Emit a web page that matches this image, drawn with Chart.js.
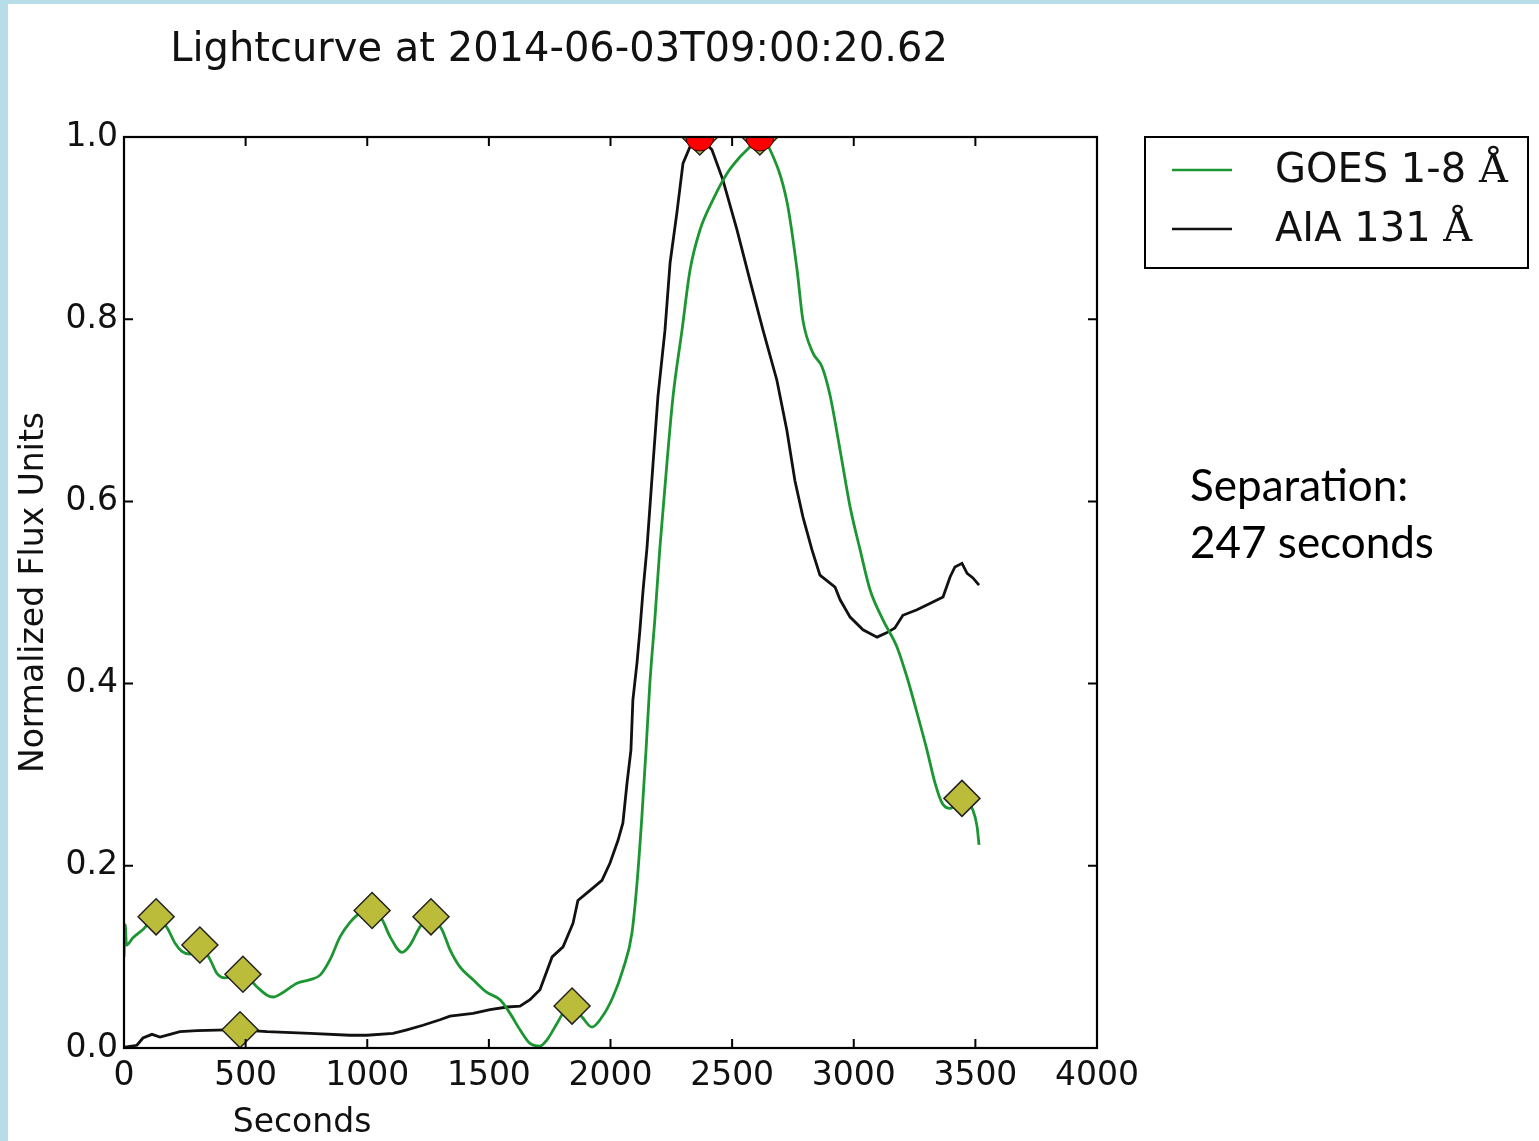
<!DOCTYPE html>
<html>
<head>
<meta charset="utf-8">
<title>Lightcurve</title>
<script src="https://cdn.jsdelivr.net/npm/chart.js@4"></script>
<style>
  html, body { margin: 0; padding: 0; background: #fff; }
  canvas { display: block; }
</style>
</head>
<body>
<canvas id="lightcurve" width="1539" height="1141"></canvas>
<script>
// ── Data (seconds vs. normalized flux) ──────────────────────────────────────
const goesSec = [0, 5, 10, 37, 78, 132, 177, 210, 238, 271, 312, 354, 382, 415, 489, 547, 588, 613, 654, 711,
    765, 806, 847, 888, 929, 970, 1020, 1061, 1094, 1143, 1176, 1217, 1262, 1307, 1340, 1381, 1435, 1492, 1546,
    1587, 1628, 1669, 1710, 1739, 1780, 1805, 1842, 1883, 1924, 1965, 2010, 2051, 2088, 2109, 2129, 2146, 2162,
    2183, 2203, 2232, 2257, 2294, 2327, 2368, 2421, 2479, 2532, 2573, 2614, 2656, 2726, 2767, 2791, 2832, 2869,
    2902, 2944, 2985, 3026, 3067, 3120, 3178, 3219, 3260, 3301, 3334, 3363, 3396, 3445, 3490, 3507, 3515];
const goesFlux = [0.100, 0.135, 0.113, 0.121, 0.130, 0.144, 0.132, 0.115, 0.106, 0.103, 0.113, 0.097, 0.082, 0.077,
    0.081, 0.067, 0.058, 0.056, 0.061, 0.071, 0.075, 0.080, 0.097, 0.122, 0.138, 0.148, 0.151, 0.141, 0.122, 0.105,
    0.113, 0.133, 0.144, 0.130, 0.108, 0.089, 0.075, 0.061, 0.053, 0.038, 0.020, 0.005, 0.002, 0.009, 0.027, 0.038,
    0.046, 0.034, 0.023, 0.034, 0.056, 0.086, 0.126, 0.181, 0.254, 0.327, 0.401, 0.473, 0.549, 0.642, 0.715, 0.788,
    0.854, 0.898, 0.931, 0.960, 0.978, 0.989, 1.000, 0.986, 0.928, 0.854, 0.799, 0.763, 0.748, 0.717, 0.656, 0.594,
    0.547, 0.503, 0.470, 0.440, 0.407, 0.368, 0.327, 0.291, 0.269, 0.263, 0.274, 0.261, 0.243, 0.223];

const aiaSec = [4, 53, 78, 115, 148, 189, 230, 300, 423, 477, 588, 765, 929, 999, 1106, 1163, 1229, 1299, 1340, 1435,
    1505, 1575, 1628, 1669, 1710, 1760, 1805, 1846, 1866, 1916, 1965, 1998, 2031, 2051, 2068, 2084, 2092, 2109, 2121,
    2134, 2150, 2175, 2195, 2224, 2245, 2273, 2298, 2339, 2367, 2417, 2462, 2520, 2573, 2627, 2684, 2725, 2758, 2791,
    2828, 2861, 2923, 2944, 2985, 3038, 3096, 3137, 3169, 3202, 3260, 3313, 3367, 3396, 3416, 3445, 3466, 3490, 3515];
const aiaFlux = [0.001, 0.003, 0.011, 0.015, 0.012, 0.015, 0.018, 0.019, 0.020, 0.020, 0.018, 0.016, 0.014, 0.014,
    0.016, 0.020, 0.025, 0.031, 0.035, 0.038, 0.042, 0.045, 0.046, 0.053, 0.064, 0.100, 0.111, 0.137, 0.162, 0.173,
    0.184, 0.203, 0.228, 0.247, 0.291, 0.327, 0.382, 0.423, 0.459, 0.503, 0.549, 0.642, 0.715, 0.788, 0.862, 0.917,
    0.971, 0.997, 1.000, 0.986, 0.953, 0.898, 0.843, 0.788, 0.733, 0.678, 0.623, 0.583, 0.547, 0.519, 0.506, 0.492,
    0.473, 0.459, 0.451, 0.456, 0.461, 0.475, 0.481, 0.488, 0.495, 0.517, 0.528, 0.532, 0.521, 0.516, 0.508];

// Lokální extrémy (kosočtverce) a maxima (červené body)
const goesMarkSec = [132, 312, 489, 1020, 1262, 1842, 2614, 3445];
const goesMarkFlux = [0.144, 0.113, 0.081, 0.151, 0.144, 0.046, 1.0, 0.274];
const aiaMarkSec = [477, 2367];
const aiaMarkFlux = [0.020, 1.0];
const peakSec = [2367, 2614];
const peakFlux = [1.0, 1.0];

const seriesLabels = ['GOES 1-8 Å', 'AIA 131 Å'];
const titleText = 'Lightcurve at 2014-06-03T09:00:20.62';
const xLabel = 'Seconds';
const yLabel = 'Normalized Flux Units';
const noteLines = ['Separation:', '247 seconds'];

const zip = (xs, ys) => xs.map((x, i) => ({ x: x, y: ys[i] }));

const GREEN = '#1c9632';
const DARK = '#111111';
const AXFONT = '"DejaVu Sans", sans-serif';

// ── Pozadí, rámeček, vnitřní značky, texty a legenda ────────────────────────
const decorations = {
    id: 'decorations',
    beforeDraw(chart) {
        const ctx = chart.ctx;
        ctx.save();
        ctx.fillStyle = '#b7dde8';
        ctx.fillRect(0, 0, chart.width, chart.height);
        ctx.fillStyle = '#ffffff';
        ctx.fillRect(8, 4, chart.width - 8, chart.height - 4);
        ctx.restore();
    },
    afterDraw(chart) {
        const ctx = chart.ctx;
        const a = chart.chartArea;
        const xs = chart.scales.x;
        const ys = chart.scales.y;
        const tl = 9;
        ctx.save();

        // ticks inward on all four sides
        ctx.strokeStyle = '#000';
        ctx.lineWidth = 2;
        ctx.beginPath();
        xs.ticks.forEach((t) => {
            const px = xs.getPixelForValue(t.value);
            ctx.moveTo(px, a.bottom); ctx.lineTo(px, a.bottom - tl);
            ctx.moveTo(px, a.top); ctx.lineTo(px, a.top + tl);
        });
        ys.ticks.forEach((t) => {
            const py = ys.getPixelForValue(t.value);
            ctx.moveTo(a.left, py); ctx.lineTo(a.left + tl, py);
            ctx.moveTo(a.right, py); ctx.lineTo(a.right - tl, py);
        });
        ctx.stroke();
        ctx.lineWidth = 2.2;
        ctx.strokeRect(a.left, a.top, a.right - a.left, a.bottom - a.top);

        // title + axis titles
        ctx.fillStyle = '#111';
        ctx.textBaseline = 'alphabetic';
        ctx.textAlign = 'center';
        ctx.font = '40px ' + AXFONT;
        ctx.fillText(titleText, 559, 61);
        ctx.font = '33px ' + AXFONT;
        ctx.fillText(xLabel, 302, 1132);
        ctx.save();
        ctx.translate(43, (a.top + a.bottom) / 2);
        ctx.rotate(-Math.PI / 2);
        ctx.fillText(yLabel, 0, 0);
        ctx.restore();

        // legend
        const box = { x: 1145, y: 137, w: 383, h: 131 };
        ctx.strokeStyle = '#000';
        ctx.lineWidth = 2;
        ctx.strokeRect(box.x, box.y, box.w, box.h);
        const sets = [chart.data.datasets[3], chart.data.datasets[4]];
        sets.forEach((ds, i) => {
            const cy = 170 + i * 59;
            ctx.strokeStyle = ds.borderColor;
            ctx.lineWidth = 2.5;
            ctx.beginPath();
            ctx.moveTo(1172, cy); ctx.lineTo(1232, cy);
            ctx.stroke();
            const cut = ds.label.lastIndexOf(' ');
            const head = ds.label.slice(0, cut + 1);
            const unit = ds.label.slice(cut + 1);
            ctx.textAlign = 'left';
            ctx.fillStyle = '#111';
            ctx.font = '40px ' + AXFONT;
            ctx.fillText(head, 1275, cy + 12);
            const w = ctx.measureText(head).width;
            ctx.font = '40px "DejaVu Serif", serif';
            ctx.fillText(unit, 1275 + w, cy + 12);
        });

        // separation note
        ctx.font = '44px Lato, "Open Sans", sans-serif';
        ctx.fillStyle = '#000';
        ctx.textAlign = 'left';
        noteLines.forEach((line, i) => ctx.fillText(line, 1190, 501 + i * 57));
        ctx.restore();
    },
};

new Chart(document.getElementById('lightcurve'), {
    type: 'line',
    data: {
        datasets: [
            {
                label: 'peaks', data: zip(peakSec, peakFlux), showLine: false, order: 0, clip: 0,
                pointStyle: 'circle', pointRadius: 14, pointBackgroundColor: '#ff0000',
                pointBorderColor: '#330000', pointBorderWidth: 1,
            },
            {
                label: 'goes markers', data: zip(goesMarkSec, goesMarkFlux), showLine: false, order: 1, clip: 0,
                pointStyle: 'rectRot', pointRadius: 18, pointBackgroundColor: '#bcbc3b',
                pointBorderColor: '#222', pointBorderWidth: 1.5,
            },
            {
                label: 'aia markers', data: zip(aiaMarkSec, aiaMarkFlux), showLine: false, order: 1, clip: 0,
                pointStyle: 'rectRot', pointRadius: 18, pointBackgroundColor: '#bcbc3b',
                pointBorderColor: '#222', pointBorderWidth: 1.5,
            },
            {
                label: seriesLabels[0], data: zip(goesSec, goesFlux), order: 2,
                borderColor: GREEN, borderWidth: 2.8, pointRadius: 0, fill: false,
                cubicInterpolationMode: 'monotone',
            },
            {
                label: seriesLabels[1], data: zip(aiaSec, aiaFlux), order: 3,
                borderColor: DARK, borderWidth: 2.8, pointRadius: 0, fill: false, tension: 0,
            },
        ],
    },
    options: {
        responsive: false,
        animation: false,
        layout: { padding: { left: 0, top: 137, right: 442, bottom: 0 } },
        plugins: {
            legend: { display: false },
            title: { display: false },
            tooltip: { enabled: false },
        },
        scales: {
            x: {
                type: 'linear', min: 0, max: 4000,
                ticks: {
                    stepSize: 500, color: '#111', padding: 9, maxRotation: 0,
                    font: { family: AXFONT, size: 33 },
                    callback: (v) => String(v),
                },
                grid: { display: false, drawTicks: false },
                border: { display: false },
                afterFit(scale) { scale.height = 93; },
            },
            y: {
                min: 0, max: 1,
                ticks: {
                    stepSize: 0.2, color: '#111', padding: 6, font: { family: AXFONT, size: 33 },
                    callback: (v) => v.toFixed(1),
                },
                grid: { display: false, drawTicks: false },
                border: { display: false },
                afterFit(scale) { scale.width = 124; },
            },
        },
    },
    plugins: [decorations],
});
</script>
</body>
</html>
